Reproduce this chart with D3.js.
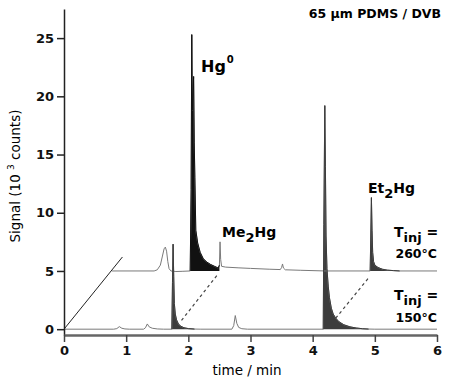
<!DOCTYPE html>
<html>
<head>
<meta charset="utf-8">
<script src="https://cdn.jsdelivr.net/npm/d3@7"></script>
<style>
  body { margin: 0; background: #fff; }
  svg { font-family: "DejaVu Sans", Verdana, sans-serif; }
</style>
</head>
<body>
<div id="chart"></div>
<script>
// chromatogram at T_inj = 150 C  [time (min), signal (10^3 counts)]
var trace150 = [
    [0, 0], [0.8, 0], [0.85, 0.05], [0.89, 0.22], [0.93, 0.08], [0.98, 0.02], [1.05, 0],
    [1.28, 0], [1.31, 0.12], [1.34, 0.45], [1.37, 0.2], [1.42, 0.08], [1.5, 0.02], [1.6, 0],
    [1.735, 0], [1.745, 4], [1.755, 7.3], [1.765, 4.5], [1.775, 2.2], [1.79, 1.3], [1.81, 0.8],
    [1.84, 0.45], [1.88, 0.25], [1.93, 0.12], [2.0, 0.05], [2.1, 0.01], [2.2, 0],
    [2.7, 0], [2.73, 0.3], [2.755, 1.17], [2.78, 0.5], [2.81, 0.15], [2.86, 0.04], [2.95, 0],
    [4.17, 0], [4.18, 9], [4.195, 19.2], [4.205, 14], [4.215, 8], [4.23, 5.2], [4.25, 3.7],
    [4.27, 2.7], [4.3, 1.8], [4.33, 1.3], [4.37, 0.95], [4.42, 0.65], [4.5, 0.38], [4.6, 0.2],
    [4.7, 0.1], [4.8, 0.04], [4.9, 0.01], [5.0, 0], [6, 0]
];

// chromatogram at T_inj = 260 C, drawn offset (as plotted)
var trace260 = [
    [0.77, 5], [1.45, 5], [1.5, 5.1], [1.55, 5.5], [1.58, 6.2], [1.61, 6.9], [1.63, 7.05],
    [1.65, 6.7], [1.67, 5.8], [1.69, 5.2], [1.72, 5.0], [1.8, 4.95], [1.9, 4.97], [2.03, 5.0],
    [2.045, 12], [2.055, 25.3], [2.065, 18.8], [2.085, 21.7], [2.095, 16], [2.105, 13],
    [2.12, 8.5], [2.15, 7.4], [2.19, 6.6], [2.24, 6.05], [2.3, 5.75], [2.36, 5.55], [2.42, 5.4],
    [2.48, 5.25], [2.5, 5.5], [2.51, 7.5], [2.52, 6], [2.535, 5.4], [2.6, 5.33], [2.8, 5.27],
    [3.0, 5.22], [3.3, 5.15], [3.48, 5.12], [3.5, 5.3], [3.515, 5.6], [3.53, 5.25], [3.56, 5.1],
    [3.8, 5.06], [4.2, 5.0], [4.925, 5.0], [4.935, 8], [4.945, 11.3], [4.955, 8.5],
    [4.965, 6.6], [4.98, 5.8], [5.0, 5.5], [5.05, 5.3], [5.12, 5.15], [5.2, 5.07], [5.3, 5.03],
    [5.4, 5.0], [6, 5]
];

// integrated (filled) peaks: [from, to]
var fills150 = [[1.735, 2.1], [4.17, 4.9]];
var fills260 = [[2.03, 2.5], [4.925, 5.4]];

// offset axis and peak correspondence lines
var offsetLine = [[0, 0], [0.94, 6.2]];
var linkMe2Hg = [[1.89, 0.75], [2.48, 4.75]];
var linkEt2Hg = [[4.37, 0.94], [4.91, 4.47]];

var xTicks = [0, 1, 2, 3, 4, 5, 6];
var yTicks = [0, 5, 10, 15, 20, 25];

var width = 450, height = 384;
var margin = {top: 9, right: 13, bottom: 49, left: 64};

var x = d3.scaleLinear()
    .domain([0, 6])
    .range([margin.left, width - margin.right]);

var y = d3.scaleLinear()
    .domain([-0.5, 27.5])
    .range([height - margin.bottom, margin.top]);

var svg = d3.select("#chart").append("svg")
    .attr("width", width)
    .attr("height", height);

var line = d3.line()
    .x(function(d) { return x(d[0]); })
    .y(function(d) { return y(d[1]); });

function area(base) {
    return d3.area()
        .x(function(d) { return x(d[0]); })
        .y0(y(base))
        .y1(function(d) { return y(d[1]); });
}

function drawFills(trace, ranges, base, colours) {
    ranges.forEach(function(r, i) {
        var pts = trace.filter(function(d) { return d[0] >= r[0] && d[0] <= r[1]; });
        svg.append("path")
            .attr("d", area(base)(pts))
            .attr("fill", colours[i]);
    });
}

drawFills(trace150, fills150, 0, ["#3c3c3c", "#3c3c3c"]);
drawFills(trace260, fills260, 5, ["#111", "#3c3c3c"]);

svg.append("path").attr("d", line(trace150))
    .attr("fill", "none").attr("stroke", "#7a7a7a").attr("stroke-width", 1);
svg.append("path").attr("d", line(trace260))
    .attr("fill", "none").attr("stroke", "#7a7a7a").attr("stroke-width", 1);

// peaks drawn again on top so spikes stay dark
fills150.forEach(function(r) {
    var pts = trace150.filter(function(d) { return d[0] >= r[0] && d[0] <= r[1]; });
    svg.append("path").attr("d", line(pts)).attr("fill", "none").attr("stroke", "#3c3c3c");
});
fills260.forEach(function(r, i) {
    var pts = trace260.filter(function(d) { return d[0] >= r[0] && d[0] <= r[1]; });
    svg.append("path").attr("d", line(pts)).attr("fill", "none")
        .attr("stroke", i == 0 ? "#111" : "#3c3c3c");
});

svg.append("path").attr("d", line(offsetLine))
    .attr("fill", "none").attr("stroke", "#222").attr("stroke-width", 1);

[linkMe2Hg, linkEt2Hg].forEach(function(l) {
    svg.append("path").attr("d", line(l))
        .attr("fill", "none").attr("stroke", "#444").attr("stroke-width", 1.2)
        .attr("stroke-dasharray", "3,3");
});

// axes
var xAxis = d3.axisBottom(x)
    .tickValues(xTicks)
    .tickFormat(d3.format("d"))
    .tickSizeInner(7)
    .tickSizeOuter(0)
    .tickPadding(4);

var yAxis = d3.axisLeft(y)
    .tickValues(yTicks)
    .tickSizeInner(7)
    .tickSizeOuter(0)
    .tickPadding(3);

var gy = svg.append("g")
    .attr("transform", "translate(" + margin.left + ",0)")
    .call(yAxis);
gy.select(".domain").attr("stroke", "#222").attr("stroke-width", 1.5);
gy.selectAll(".tick line").attr("stroke", "#222").attr("stroke-width", 1.5);
gy.selectAll(".tick text")
    .attr("font-size", "13px").attr("font-weight", "bold").attr("fill", "#111")
    .attr("font-family", "DejaVu Sans");

var gx = svg.append("g")
    .attr("transform", "translate(0," + (height - margin.bottom) + ")")
    .call(xAxis);
gx.select(".domain").attr("stroke", "#666").attr("stroke-width", 2.5);
gx.selectAll(".tick line").attr("stroke", "#444").attr("stroke-width", 1.5);
gx.selectAll(".tick text")
    .attr("font-size", "13px").attr("font-weight", "bold").attr("fill", "#111")
    .attr("font-family", "DejaVu Sans");

// axis titles
svg.append("text")
    .attr("x", 247).attr("y", 375)
    .attr("text-anchor", "middle")
    .attr("font-size", "13.5px")
    .text("time / min");

var yl = svg.append("text")
    .attr("transform", "translate(20,176) rotate(-90)")
    .attr("text-anchor", "middle")
    .attr("font-size", "13.5px");
yl.append("tspan").text("Signal  (10 ");
yl.append("tspan").attr("font-size", "9px").attr("dy", -6).text("3");
yl.append("tspan").attr("dy", 6).text(" counts)");

// annotations
svg.append("text")
    .attr("x", 441).attr("y", 18)
    .attr("text-anchor", "end")
    .attr("font-size", "12.5px").attr("font-weight", "bold")
    .text("65 \u00b5m PDMS / DVB");

var hg = svg.append("text").attr("x", 201).attr("y", 72)
    .attr("font-size", "16px").attr("font-weight", "bold");
hg.append("tspan").text("Hg");
hg.append("tspan").attr("font-size", "10px").attr("dy", -9).attr("dx", 1).text("0");

function subLabel(xp, yp, a, sub, b) {
    var t = svg.append("text").attr("x", xp).attr("y", yp)
        .attr("font-size", "14px").attr("font-weight", "bold");
    t.append("tspan").text(a);
    t.append("tspan").attr("dy", 5).attr("font-size", "13px").text(sub);
    t.append("tspan").attr("dy", -5).text(b);
    return t;
}

subLabel(222, 237, "Me", "2", "Hg");
subLabel(368, 193, "Et", "2", "Hg");
subLabel(394, 237, "T", "inj", " =");
subLabel(394, 300, "T", "inj", " =");

svg.append("text").attr("x", 437).attr("y", 258)
    .attr("text-anchor", "end")
    .attr("font-size", "12.5px").attr("font-weight", "bold")
    .text("260\u00b0C");
svg.append("text").attr("x", 437).attr("y", 322)
    .attr("text-anchor", "end")
    .attr("font-size", "12.5px").attr("font-weight", "bold")
    .text("150\u00b0C");
</script>
</body>
</html>
